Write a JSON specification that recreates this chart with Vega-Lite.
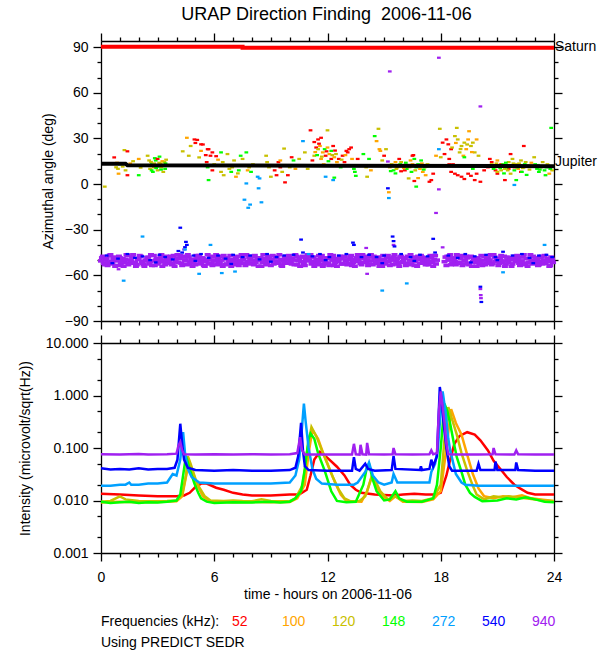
{
  "$schema": "https://vega.github.io/schema/vega-lite/v6.json",
  "background": "white",
  "padding": {"left": 17, "top": 6, "right": 0, "bottom": 0},
  "title": {"text": "URAP Direction Finding\u00a0 2006-11-06", "fontSize": 18, "fontWeight": "normal", "font": "Liberation Sans", "color": "black", "anchor": "middle", "offset": 8, "dx": 19},
  "spacing": 4,
  "resolve": {"legend": {"color": "independent"}},
  "datasets": {
    "upper": [
      {"t":0.2,"a":-1.7,"f":"120"},{"t":0.7,"a":17.5,"f":"52"},{"t":0.8,"a":11,"f":"120"},{"t":0.85,"a":14,"f":"100"},{"t":0.9,"a":10,"f":"120"},{"t":0.93,"a":6.8,"f":"100"},{"t":1.0,"a":13,"f":"148"},{"t":1.15,"a":11.5,"f":"120"},{"t":1.24,"a":22.3,"f":"120"},{"t":1.4,"a":21.5,"f":"52"},{"t":1.4,"a":5.8,"f":"52"},{"t":1.3,"a":9,"f":"120"},{"t":1.55,"a":13.5,"f":"100"},{"t":1.7,"a":15,"f":"120"},{"t":2.0,"a":16.5,"f":"100"},{"t":2.1,"a":10.8,"f":"120"},{"t":2.0,"a":5.8,"f":"148"},
      {"t":2.47,"a":18.6,"f":"120"},{"t":2.5,"a":12.2,"f":"148"},{"t":2.6,"a":10,"f":"120"},{"t":2.65,"a":14.5,"f":"120"},{"t":2.7,"a":13,"f":"148"},{"t":2.75,"a":8,"f":"148"},{"t":2.8,"a":11,"f":"120"},{"t":2.85,"a":17,"f":"148"},{"t":2.9,"a":15.5,"f":"148"},{"t":2.95,"a":12,"f":"120"},{"t":3.0,"a":9,"f":"120"},{"t":3.0,"a":16.5,"f":"52"},{"t":3.05,"a":11.5,"f":"148"},{"t":3.1,"a":18,"f":"148"},{"t":3.15,"a":13.5,"f":"120"},{"t":3.2,"a":11,"f":"120"},{"t":3.25,"a":15,"f":"100"},{"t":3.3,"a":8,"f":"120"},{"t":3.35,"a":12.5,"f":"148"},{"t":3.36,"a":14.4,"f":"120"},{"t":3.4,"a":10,"f":"148"},{"t":3.45,"a":16,"f":"120"},
      {"t":2.55,"a":15.5,"f":"120"},{"t":2.68,"a":9,"f":"148"},{"t":2.82,"a":13.5,"f":"120"},{"t":2.92,"a":10.5,"f":"148"},{"t":3.08,"a":14,"f":"120"},{"t":3.18,"a":9.5,"f":"148"},{"t":3.28,"a":12,"f":"100"},{"t":3.42,"a":13.5,"f":"148"},
      {"t":4.33,"a":21.5,"f":"120"},{"t":4.55,"a":30.4,"f":"100"},{"t":4.65,"a":18.6,"f":"120"},{"t":4.75,"a":25,"f":"120"},{"t":4.95,"a":29.3,"f":"52"},{"t":5.0,"a":27,"f":"52"},{"t":5.1,"a":29,"f":"52"},{"t":5.2,"a":17.5,"f":"120"},{"t":5.3,"a":26.1,"f":"52"},{"t":5.3,"a":21.8,"f":"100"},{"t":5.4,"a":26,"f":"52"},{"t":5.55,"a":19,"f":"52"},{"t":5.6,"a":14.4,"f":"52"},{"t":5.65,"a":22.9,"f":"52"},{"t":5.65,"a":11,"f":"148"},{"t":5.7,"a":22.9,"f":"52"},{"t":5.7,"a":2.6,"f":"148"},{"t":5.8,"a":18.6,"f":"52"},{"t":5.9,"a":20.8,"f":"52"},{"t":5.9,"a":9,"f":"52"},{"t":6.1,"a":18.3,"f":"52"},{"t":6.0,"a":13,"f":"120"},{"t":6.2,"a":16,"f":"100"},
      {"t":6.36,"a":20.8,"f":"148"},{"t":6.45,"a":14.4,"f":"120"},{"t":6.36,"a":8,"f":"120"},{"t":6.5,"a":5.8,"f":"120"},{"t":6.7,"a":19.7,"f":"120"},{"t":6.8,"a":10,"f":"120"},{"t":6.9,"a":8,"f":"148"},{"t":6.95,"a":11,"f":"120"},{"t":7.05,"a":15.5,"f":"120"},{"t":7.15,"a":4.8,"f":"100"},{"t":7.25,"a":7,"f":"120"},{"t":7.3,"a":9,"f":"148"},{"t":7.4,"a":18.6,"f":"148"},{"t":7.5,"a":16.5,"f":"120"},{"t":7.6,"a":12.2,"f":"120"},{"t":7.7,"a":20.8,"f":"148"},{"t":7.77,"a":9,"f":"100"},{"t":7.85,"a":11,"f":"120"},{"t":7.95,"a":8,"f":"148"},{"t":8.05,"a":13,"f":"120"},
      {"t":7.7,"a":0.4,"f":"272"},{"t":7.6,"a":-10.3,"f":"272"},{"t":7.8,"a":-15.6,"f":"272"},{"t":7.9,"a":-13.5,"f":"272"},{"t":8.3,"a":4.8,"f":"272"},{"t":8.4,"a":3.7,"f":"272"},{"t":8.35,"a":-2.8,"f":"272"},{"t":8.5,"a":-12,"f":"272"},
      {"t":8.75,"a":18.6,"f":"120"},{"t":8.8,"a":14.4,"f":"120"},{"t":8.9,"a":11,"f":"120"},{"t":9.0,"a":4.8,"f":"120"},{"t":9.2,"a":9,"f":"52"},{"t":9.3,"a":5.8,"f":"52"},{"t":9.4,"a":14.4,"f":"52"},{"t":9.5,"a":11,"f":"52"},{"t":9.5,"a":15.5,"f":"100"},{"t":9.6,"a":8,"f":"120"},{"t":9.7,"a":23.3,"f":"120"},{"t":9.75,"a":1.1,"f":"52"},{"t":9.9,"a":5.8,"f":"52"},{"t":10.0,"a":11,"f":"120"},{"t":10.1,"a":17.6,"f":"52"},{"t":10.2,"a":15.5,"f":"148"},{"t":10.3,"a":10,"f":"100"},{"t":10.5,"a":16.5,"f":"120"},{"t":10.6,"a":12.2,"f":"120"},{"t":10.7,"a":28.2,"f":"272"},{"t":10.8,"a":20.8,"f":"120"},{"t":10.95,"a":10,"f":"120"},
      {"t":11.1,"a":35.3,"f":"52"},{"t":11.2,"a":15.5,"f":"52"},{"t":11.3,"a":27.6,"f":"52"},{"t":11.3,"a":18.6,"f":"120"},{"t":11.4,"a":24,"f":"52"},{"t":11.5,"a":29.3,"f":"52"},{"t":11.5,"a":22.9,"f":"120"},{"t":11.6,"a":25,"f":"100"},{"t":11.66,"a":30.4,"f":"52"},{"t":11.66,"a":16.5,"f":"100"},{"t":11.75,"a":20.8,"f":"100"},{"t":11.85,"a":22.9,"f":"148"},{"t":11.9,"a":18.6,"f":"52"},{"t":11.9,"a":4.8,"f":"272"},{"t":12.0,"a":35.3,"f":"120"},{"t":12.0,"a":24,"f":"100"},{"t":12.1,"a":19.7,"f":"100"},{"t":12.2,"a":16.5,"f":"52"},{"t":12.2,"a":21.8,"f":"148"},{"t":12.3,"a":25,"f":"52"},{"t":12.3,"a":2.6,"f":"272"},{"t":12.36,"a":17.6,"f":"100"},{"t":12.36,"a":4.2,"f":"148"},{"t":12.45,"a":19.7,"f":"120"},{"t":12.5,"a":14.4,"f":"100"},{"t":12.6,"a":16.5,"f":"52"},{"t":12.7,"a":11,"f":"148"},{"t":12.8,"a":18.6,"f":"52"},{"t":12.9,"a":14.4,"f":"52"},{"t":13.0,"a":21.8,"f":"52"},{"t":13.07,"a":20.8,"f":"52"},{"t":13.15,"a":22.9,"f":"52"},{"t":13.25,"a":24,"f":"52"},{"t":13.3,"a":16.5,"f":"100"},{"t":13.4,"a":10,"f":"148"},{"t":13.45,"a":8,"f":"148"},{"t":13.5,"a":5.4,"f":"148"},{"t":13.6,"a":16.5,"f":"52"},{"t":11.8,"a":13,"f":"100"},{"t":12.15,"a":12,"f":"120"},{"t":11.45,"a":19,"f":"148"},
      {"t":11.35,"a":21,"f":"100"},{"t":11.55,"a":26.5,"f":"52"},{"t":11.7,"a":18,"f":"120"},{"t":11.95,"a":21.5,"f":"52"},{"t":12.05,"a":15,"f":"148"},{"t":12.25,"a":19,"f":"120"},{"t":12.4,"a":22,"f":"52"},{"t":12.55,"a":12.5,"f":"100"},{"t":12.75,"a":16,"f":"120"},{"t":12.95,"a":19,"f":"100"},
      {"t":13.9,"a":19.7,"f":"148"},{"t":14.05,"a":11,"f":"120"},{"t":14.1,"a":4.8,"f":"120"},{"t":14.2,"a":16.5,"f":"148"},{"t":14.5,"a":31.5,"f":"148"},{"t":14.6,"a":28.2,"f":"100"},{"t":14.7,"a":36.3,"f":"120"},{"t":14.75,"a":22.9,"f":"100"},{"t":14.8,"a":21.8,"f":"100"},{"t":14.9,"a":15.5,"f":"120"},{"t":15.0,"a":18.6,"f":"52"},{"t":15.1,"a":22.9,"f":"120"},{"t":15.2,"a":14.8,"f":"940"},{"t":15.2,"a":-2.8,"f":"540"},{"t":15.25,"a":-5.4,"f":"100"},{"t":15.25,"a":-9.2,"f":"272"},{"t":14.3,"a":9,"f":"100"},
      {"t":15.3,"a":11,"f":"120"},{"t":15.4,"a":13,"f":"120"},{"t":15.5,"a":9,"f":"148"},{"t":15.6,"a":7,"f":"148"},{"t":15.6,"a":14.4,"f":"100"},{"t":15.7,"a":11,"f":"100"},{"t":15.8,"a":16.5,"f":"52"},{"t":15.9,"a":14.4,"f":"120"},{"t":15.9,"a":8.4,"f":"52"},{"t":16.0,"a":12.2,"f":"120"},{"t":16.1,"a":9,"f":"52"},{"t":16.2,"a":10,"f":"148"},{"t":16.3,"a":3.7,"f":"120"},{"t":16.4,"a":15.5,"f":"100"},{"t":16.5,"a":13,"f":"100"},{"t":16.5,"a":18.6,"f":"52"},{"t":16.55,"a":19,"f":"52"},{"t":16.6,"a":16.5,"f":"148"},{"t":16.6,"a":2.0,"f":"52"},{"t":16.7,"a":11,"f":"148"},{"t":16.7,"a":-1.7,"f":"148"},{"t":16.8,"a":13,"f":"148"},{"t":16.8,"a":3.9,"f":"100"},{"t":16.9,"a":10,"f":"100"},{"t":16.96,"a":15.5,"f":"148"},{"t":17.05,"a":8,"f":"100"},{"t":17.15,"a":11,"f":"120"},{"t":17.2,"a":5.8,"f":"100"},{"t":17.3,"a":13,"f":"120"},{"t":17.4,"a":1.5,"f":"52"},{"t":17.5,"a":2.6,"f":"52"},{"t":17.6,"a":6.8,"f":"52"},{"t":17.7,"a":12.2,"f":"120"},{"t":16.25,"a":12.5,"f":"100"},{"t":16.45,"a":8,"f":"148"},{"t":15.75,"a":12,"f":"148"},
      {"t":15.35,"a":8.5,"f":"148"},{"t":15.45,"a":12,"f":"100"},{"t":15.65,"a":10,"f":"120"},{"t":15.85,"a":13,"f":"148"},{"t":16.05,"a":10.5,"f":"100"},{"t":16.15,"a":14,"f":"148"},{"t":16.35,"a":11,"f":"120"},{"t":16.65,"a":9,"f":"120"},{"t":16.85,"a":12,"f":"120"},{"t":17.0,"a":13.5,"f":"100"},{"t":17.1,"a":9.5,"f":"148"},{"t":17.25,"a":11.5,"f":"100"},
      {"t":17.75,"a":18.6,"f":"100"},{"t":17.9,"a":22.9,"f":"272"},{"t":17.95,"a":36.3,"f":"120"},{"t":18.0,"a":17.6,"f":"120"},{"t":18.1,"a":27.2,"f":"52"},{"t":18.2,"a":19.7,"f":"52"},{"t":18.3,"a":29.3,"f":"52"},{"t":18.4,"a":26.1,"f":"52"},{"t":18.45,"a":16.5,"f":"52"},{"t":18.45,"a":13,"f":"52"},{"t":18.55,"a":22.9,"f":"52"},{"t":18.55,"a":8,"f":"52"},{"t":18.65,"a":13,"f":"52"},{"t":18.75,"a":31.5,"f":"120"},{"t":18.75,"a":6.8,"f":"52"},{"t":18.85,"a":36.9,"f":"120"},{"t":18.9,"a":29.3,"f":"120"},{"t":18.9,"a":5.8,"f":"52"},{"t":19.0,"a":20.8,"f":"120"},{"t":19.1,"a":25,"f":"120"},{"t":19.1,"a":4.8,"f":"52"},{"t":19.2,"a":18.6,"f":"100"},{"t":19.25,"a":27.2,"f":"120"},{"t":19.25,"a":3.3,"f":"52"},{"t":19.25,"a":17.6,"f":"148"},{"t":19.35,"a":22.9,"f":"100"},{"t":19.45,"a":29.3,"f":"100"},{"t":19.45,"a":6.8,"f":"52"},{"t":19.5,"a":34.7,"f":"100"},{"t":19.6,"a":25,"f":"120"},{"t":19.6,"a":5.4,"f":"52"},{"t":19.7,"a":27.2,"f":"120"},{"t":19.7,"a":10,"f":"148"},{"t":19.8,"a":20.8,"f":"120"},{"t":19.8,"a":2.6,"f":"52"},{"t":19.9,"a":29.3,"f":"100"},{"t":19.9,"a":6.8,"f":"52"},{"t":20.0,"a":18.6,"f":"120"},{"t":20.0,"a":12.2,"f":"52"},{"t":20.1,"a":1.5,"f":"52"},
      {"t":18.6,"a":24,"f":"120"},{"t":18.8,"a":27,"f":"100"},{"t":19.05,"a":23,"f":"120"},{"t":19.4,"a":26,"f":"120"},{"t":19.65,"a":21,"f":"100"},
      {"t":20.3,"a":9,"f":"52"},{"t":20.5,"a":11,"f":"52"},{"t":20.6,"a":16.5,"f":"52"},{"t":20.7,"a":14.4,"f":"52"},{"t":20.9,"a":9,"f":"52"},{"t":21.0,"a":6.8,"f":"52"},{"t":21.2,"a":13,"f":"52"},{"t":21.4,"a":2.6,"f":"52"},{"t":21.6,"a":10,"f":"52"},{"t":21.7,"a":19.7,"f":"52"},{"t":21.9,"a":11,"f":"52"},{"t":22.4,"a":25,"f":"52"},{"t":22.25,"a":8,"f":"52"},
      {"t":20.7,"a":13,"f":"120"},{"t":20.9,"a":11,"f":"120"},{"t":21.0,"a":8,"f":"120"},{"t":21.0,"a":15.5,"f":"100"},{"t":21.1,"a":12.2,"f":"120"},{"t":21.2,"a":9,"f":"120"},{"t":21.3,"a":13,"f":"148"},{"t":21.4,"a":10,"f":"120"},{"t":21.5,"a":11,"f":"148"},{"t":21.6,"a":14.4,"f":"120"},{"t":21.7,"a":6.8,"f":"120"},{"t":21.7,"a":12.2,"f":"148"},{"t":21.8,"a":16.5,"f":"120"},{"t":21.9,"a":9,"f":"148"},{"t":22.0,"a":13,"f":"120"},{"t":22.1,"a":10,"f":"100"},{"t":22.2,"a":12.2,"f":"148"},{"t":22.25,"a":15.5,"f":"120"},{"t":22.3,"a":8,"f":"148"},{"t":22.4,"a":11,"f":"120"},{"t":22.5,"a":14.4,"f":"120"},{"t":22.0,"a":2.6,"f":"148"},{"t":21.9,"a":-0.6,"f":"272"},{"t":22.95,"a":17.6,"f":"120"},{"t":23.0,"a":13,"f":"148"},{"t":23.1,"a":10,"f":"148"},{"t":23.2,"a":8,"f":"148"},{"t":23.3,"a":11,"f":"120"},{"t":23.4,"a":14.4,"f":"120"},{"t":23.5,"a":9,"f":"148"},{"t":23.55,"a":5.8,"f":"148"},{"t":23.7,"a":12.2,"f":"120"},{"t":23.75,"a":6.8,"f":"100"},{"t":23.85,"a":36.9,"f":"148"},{"t":22.6,"a":12,"f":"148"},{"t":22.7,"a":9.5,"f":"120"},{"t":22.8,"a":14,"f":"100"},{"t":23.6,"a":11,"f":"148"},{"t":23.9,"a":9,"f":"120"},{"t":21.35,"a":7,"f":"148"},{"t":20.8,"a":10,"f":"148"},{"t":22.55,"a":6,"f":"148"},
      {"t":20.75,"a":11.5,"f":"148"},{"t":20.95,"a":13.5,"f":"120"},{"t":21.15,"a":10.5,"f":"148"},{"t":21.25,"a":12.5,"f":"120"},{"t":21.45,"a":14,"f":"148"},{"t":21.55,"a":9,"f":"120"},{"t":21.65,"a":11.5,"f":"148"},{"t":21.85,"a":13.5,"f":"120"},{"t":22.05,"a":11,"f":"148"},{"t":22.15,"a":13.5,"f":"120"},{"t":22.35,"a":10.5,"f":"120"},{"t":22.45,"a":13,"f":"148"},{"t":23.05,"a":11.5,"f":"120"},{"t":23.15,"a":12.5,"f":"148"},{"t":23.25,"a":9.5,"f":"148"},{"t":23.45,"a":11.5,"f":"148"},{"t":23.65,"a":13,"f":"120"},{"t":23.8,"a":10,"f":"148"},
      {"t":15.3,"a":74,"f":"940"},{"t":17.9,"a":83,"f":"940"},{"t":20.1,"a":51,"f":"940"},{"t":17.75,"a":-19,"f":"940"},{"t":17.9,"a":-3.5,"f":"940"},
      {"t":14.05,"a":-42,"f":"940"},{"t":14.1,"a":-59,"f":"940"},{"t":18.1,"a":-41.6,"f":"940"},{"t":20.1,"a":-69,"f":"940"},{"t":20.12,"a":-73,"f":"940"},{"t":20.13,"a":-75,"f":"940"},{"t":15.5,"a":-40,"f":"940"},{"t":4.4,"a":-43,"f":"940"},{"t":0.93,"a":-56,"f":"940"},
      {"t":0.3,"a":-47,"f":"540"},{"t":0.9,"a":-49,"f":"540"},{"t":1.4,"a":-46,"f":"540"},{"t":1.8,"a":-48.5,"f":"540"},{"t":2.2,"a":-47.5,"f":"540"},{"t":2.6,"a":-50,"f":"540"},{"t":3.1,"a":-46.5,"f":"540"},{"t":3.4,"a":-48,"f":"540"},{"t":3.8,"a":-49.5,"f":"540"},{"t":4.1,"a":-44,"f":"540"},{"t":4.3,"a":-45,"f":"540"},{"t":4.45,"a":-41.5,"f":"540"},{"t":4.5,"a":-38,"f":"540"},{"t":4.55,"a":-40,"f":"540"},{"t":4.2,"a":-28.7,"f":"540"},{"t":4.9,"a":-47,"f":"540"},{"t":5.3,"a":-46,"f":"540"},{"t":5.7,"a":-48.5,"f":"540"},{"t":6.2,"a":-47,"f":"540"},{"t":6.6,"a":-49,"f":"540"},{"t":7.0,"a":-46.5,"f":"540"},{"t":7.5,"a":-48,"f":"540"},{"t":7.9,"a":-47,"f":"540"},{"t":8.4,"a":-49.5,"f":"540"},{"t":8.8,"a":-46,"f":"540"},{"t":9.3,"a":-48,"f":"540"},{"t":9.7,"a":-47,"f":"540"},{"t":10.2,"a":-46.5,"f":"540"},{"t":10.6,"a":-36.5,"f":"540"},{"t":10.7,"a":-45,"f":"540"},{"t":11.2,"a":-47.5,"f":"540"},{"t":11.6,"a":-46,"f":"540"},{"t":12.1,"a":-48,"f":"540"},{"t":12.6,"a":-47,"f":"540"},{"t":13.0,"a":-46,"f":"540"},{"t":13.35,"a":-38.5,"f":"540"},{"t":13.4,"a":-40,"f":"540"},{"t":13.8,"a":-48,"f":"540"},{"t":14.2,"a":-46.5,"f":"540"},{"t":14.6,"a":-48,"f":"540"},{"t":15.0,"a":-47,"f":"540"},{"t":15.45,"a":-34.5,"f":"540"},{"t":15.5,"a":-37.5,"f":"540"},{"t":15.55,"a":-41,"f":"540"},{"t":15.9,"a":-46,"f":"540"},{"t":16.4,"a":-48,"f":"540"},{"t":16.9,"a":-46.5,"f":"540"},{"t":17.3,"a":-47.5,"f":"540"},{"t":17.6,"a":-36,"f":"540"},{"t":17.7,"a":-45,"f":"540"},{"t":18.4,"a":-47,"f":"540"},{"t":18.9,"a":-48.5,"f":"540"},{"t":19.3,"a":-46,"f":"540"},{"t":19.8,"a":-47.5,"f":"540"},{"t":20.1,"a":-67.5,"f":"540"},{"t":20.15,"a":-77.5,"f":"540"},{"t":20.4,"a":-46.5,"f":"540"},{"t":20.9,"a":-48,"f":"540"},{"t":21.3,"a":-44.5,"f":"540"},{"t":21.8,"a":-47,"f":"540"},{"t":22.3,"a":-46,"f":"540"},{"t":22.7,"a":-48.5,"f":"540"},{"t":23.2,"a":-47,"f":"540"},{"t":23.6,"a":-46.5,"f":"540"},{"t":23.9,"a":-48,"f":"540"},
      {"t":0.6,"a":-52,"f":"540"},{"t":2.9,"a":-51.5,"f":"540"},{"t":5.0,"a":-50.5,"f":"540"},{"t":6.9,"a":-52.5,"f":"540"},{"t":9.0,"a":-51,"f":"540"},{"t":11.9,"a":-50,"f":"540"},{"t":14.9,"a":-52,"f":"540"},{"t":16.6,"a":-50.5,"f":"540"},{"t":19.6,"a":-51.5,"f":"540"},{"t":21.0,"a":-50,"f":"540"},{"t":22.9,"a":-52,"f":"540"},
      {"t":1.2,"a":-63.5,"f":"272"},{"t":2.2,"a":-34.5,"f":"272"},{"t":5.2,"a":-59,"f":"272"},{"t":5.8,"a":-40,"f":"272"},{"t":6.4,"a":-58.5,"f":"272"},{"t":7.1,"a":-57.5,"f":"272"},{"t":14.9,"a":-70,"f":"272"},{"t":16.2,"a":-65.3,"f":"272"},{"t":21.3,"a":-58,"f":"272"},{"t":23.5,"a":-40,"f":"272"},{"t":4.45,"a":-43,"f":"272"},{"t":11.0,"a":-46,"f":"272"}
    ],
    "band": [
      {"t":0.05,"a":-48.5,"f":"940"},{"t":0.15,"a":-52,"f":"940"},{"t":0.25,"a":-50,"f":"940"},{"t":0.35,"a":-53.5,"f":"940"},{"t":0.45,"a":-47,"f":"940"},{"t":0.55,"a":-51,"f":"940"},{"t":0.65,"a":-49,"f":"940"},{"t":0.75,"a":-54,"f":"940"},{"t":0.85,"a":-50.5,"f":"940"},{"t":0.95,"a":-47.5,"f":"940"},
      {"t":1.05,"a":-52.5,"f":"940"},{"t":1.15,"a":-49,"f":"940"},{"t":1.25,"a":-51.5,"f":"940"},{"t":1.35,"a":-46.5,"f":"940"},{"t":1.45,"a":-53,"f":"940"},{"t":1.55,"a":-50,"f":"940"},{"t":1.65,"a":-48,"f":"940"},{"t":1.75,"a":-52,"f":"940"},{"t":1.85,"a":-54,"f":"940"},{"t":1.95,"a":-49.5,"f":"940"},
      {"t":2.05,"a":-47,"f":"940"},{"t":2.15,"a":-51,"f":"940"},{"t":2.25,"a":-53,"f":"940"},{"t":2.35,"a":-50,"f":"940"},{"t":2.45,"a":-48.5,"f":"940"},{"t":2.55,"a":-52.5,"f":"940"},{"t":2.65,"a":-46.5,"f":"940"},{"t":2.75,"a":-50.5,"f":"940"},{"t":2.85,"a":-53.5,"f":"940"},{"t":2.95,"a":-49,"f":"940"},
      {"t":3.05,"a":-51.5,"f":"940"},{"t":3.15,"a":-48,"f":"940"},{"t":3.25,"a":-54,"f":"940"},{"t":3.35,"a":-50,"f":"940"},{"t":3.45,"a":-47.5,"f":"940"},{"t":3.55,"a":-52,"f":"940"},{"t":3.65,"a":-49.5,"f":"940"},{"t":3.75,"a":-53,"f":"940"},{"t":3.85,"a":-47,"f":"940"},{"t":3.95,"a":-51,"f":"940"},
      {"t":4.05,"a":-46.5,"f":"940"},{"t":4.15,"a":-49,"f":"940"},{"t":4.25,"a":-52,"f":"940"},{"t":4.35,"a":-47.5,"f":"940"},{"t":4.45,"a":-50,"f":"940"},{"t":4.55,"a":-53,"f":"940"},{"t":4.65,"a":-48,"f":"940"},{"t":4.75,"a":-51.5,"f":"940"},{"t":4.85,"a":-54,"f":"940"},{"t":4.95,"a":-49.5,"f":"940"},
      {"t":5.05,"a":-47,"f":"940"},{"t":5.15,"a":-52.5,"f":"940"},{"t":5.25,"a":-50,"f":"940"},{"t":5.35,"a":-48.5,"f":"940"},{"t":5.45,"a":-53.5,"f":"940"},{"t":5.55,"a":-51,"f":"940"},{"t":5.65,"a":-46.5,"f":"940"},{"t":5.75,"a":-49.5,"f":"940"},{"t":5.85,"a":-52,"f":"940"},{"t":5.95,"a":-50.5,"f":"940"},
      {"t":6.05,"a":-48,"f":"940"},{"t":6.15,"a":-53,"f":"940"},{"t":6.25,"a":-51,"f":"940"},{"t":6.35,"a":-47.5,"f":"940"},{"t":6.45,"a":-54,"f":"940"},{"t":6.55,"a":-49,"f":"940"},{"t":6.65,"a":-52.5,"f":"940"},{"t":6.75,"a":-50,"f":"940"},{"t":6.85,"a":-47,"f":"940"},{"t":6.95,"a":-51.5,"f":"940"},
      {"t":7.05,"a":-53,"f":"940"},{"t":7.15,"a":-48.5,"f":"940"},{"t":7.25,"a":-50.5,"f":"940"},{"t":7.35,"a":-52,"f":"940"},{"t":7.45,"a":-46.5,"f":"940"},{"t":7.55,"a":-49.5,"f":"940"},{"t":7.65,"a":-53.5,"f":"940"},{"t":7.75,"a":-51,"f":"940"},{"t":7.85,"a":-48,"f":"940"},{"t":7.95,"a":-50,"f":"940"},
      {"t":8.05,"a":-52,"f":"940"},{"t":8.15,"a":-47,"f":"940"},{"t":8.25,"a":-50,"f":"940"},{"t":8.35,"a":-54,"f":"940"},{"t":8.45,"a":-48.5,"f":"940"},{"t":8.55,"a":-51.5,"f":"940"},{"t":8.65,"a":-49,"f":"940"},{"t":8.75,"a":-53,"f":"940"},{"t":8.85,"a":-47.5,"f":"940"},{"t":8.95,"a":-50.5,"f":"940"},
      {"t":9.05,"a":-49.5,"f":"940"},{"t":9.15,"a":-52.5,"f":"940"},{"t":9.25,"a":-48,"f":"940"},{"t":9.35,"a":-51,"f":"940"},{"t":9.45,"a":-46.5,"f":"940"},{"t":9.55,"a":-53.5,"f":"940"},{"t":9.65,"a":-50,"f":"940"},{"t":9.75,"a":-48.5,"f":"940"},{"t":9.85,"a":-52,"f":"940"},{"t":9.95,"a":-47,"f":"940"},
      {"t":10.05,"a":-51,"f":"940"},{"t":10.15,"a":-49,"f":"940"},{"t":10.25,"a":-53,"f":"940"},{"t":10.35,"a":-47.5,"f":"940"},{"t":10.45,"a":-50.5,"f":"940"},{"t":10.55,"a":-54,"f":"940"},{"t":10.65,"a":-48,"f":"940"},{"t":10.75,"a":-52,"f":"940"},{"t":10.85,"a":-49.5,"f":"940"},{"t":10.95,"a":-46.5,"f":"940"},
      {"t":11.05,"a":-50,"f":"940"},{"t":11.15,"a":-52.5,"f":"940"},{"t":11.25,"a":-48,"f":"940"},{"t":11.35,"a":-51.5,"f":"940"},{"t":11.45,"a":-53,"f":"940"},{"t":11.55,"a":-47,"f":"940"},{"t":11.65,"a":-49,"f":"940"},{"t":11.75,"a":-54,"f":"940"},{"t":11.85,"a":-50.5,"f":"940"},{"t":11.95,"a":-48.5,"f":"940"},
      {"t":12.05,"a":-52,"f":"940"},{"t":12.15,"a":-46.5,"f":"940"},{"t":12.25,"a":-50,"f":"940"},{"t":12.35,"a":-53.5,"f":"940"},{"t":12.45,"a":-49,"f":"940"},{"t":12.55,"a":-51,"f":"940"},{"t":12.65,"a":-47.5,"f":"940"},{"t":12.75,"a":-52.5,"f":"940"},{"t":12.85,"a":-48,"f":"940"},{"t":12.95,"a":-50.5,"f":"940"},
      {"t":13.05,"a":-53,"f":"940"},{"t":13.15,"a":-49.5,"f":"940"},{"t":13.25,"a":-47,"f":"940"},{"t":13.35,"a":-51.5,"f":"940"},{"t":13.45,"a":-54,"f":"940"},{"t":13.55,"a":-48.5,"f":"940"},{"t":13.65,"a":-50,"f":"940"},{"t":13.75,"a":-52,"f":"940"},{"t":13.85,"a":-46.5,"f":"940"},{"t":13.95,"a":-49,"f":"940"},
      {"t":14.05,"a":-51,"f":"940"},{"t":14.15,"a":-53.5,"f":"940"},{"t":14.25,"a":-48,"f":"940"},{"t":14.35,"a":-50.5,"f":"940"},{"t":14.45,"a":-47.5,"f":"940"},{"t":14.55,"a":-52,"f":"940"},{"t":14.65,"a":-49.5,"f":"940"},{"t":14.75,"a":-54,"f":"940"},{"t":14.85,"a":-50,"f":"940"},{"t":14.95,"a":-47,"f":"940"},
      {"t":15.05,"a":-52.5,"f":"940"},{"t":15.15,"a":-48.5,"f":"940"},{"t":15.25,"a":-51,"f":"940"},{"t":15.35,"a":-49,"f":"940"},{"t":15.45,"a":-53,"f":"940"},{"t":15.55,"a":-46.5,"f":"940"},{"t":15.65,"a":-50.5,"f":"940"},{"t":15.75,"a":-52,"f":"940"},{"t":15.85,"a":-48,"f":"940"},{"t":15.95,"a":-51.5,"f":"940"},
      {"t":16.05,"a":-49,"f":"940"},{"t":16.15,"a":-53.5,"f":"940"},{"t":16.25,"a":-47.5,"f":"940"},{"t":16.35,"a":-50,"f":"940"},{"t":16.45,"a":-52.5,"f":"940"},{"t":16.55,"a":-48,"f":"940"},{"t":16.65,"a":-51,"f":"940"},{"t":16.75,"a":-54,"f":"940"},{"t":16.85,"a":-49.5,"f":"940"},{"t":16.95,"a":-47,"f":"940"},
      {"t":17.05,"a":-50.5,"f":"940"},{"t":17.15,"a":-52,"f":"940"},{"t":17.25,"a":-48.5,"f":"940"},{"t":17.35,"a":-53,"f":"940"},{"t":17.45,"a":-47,"f":"940"},{"t":17.55,"a":-51.5,"f":"940"},{"t":17.65,"a":-49.5,"f":"940"},{"t":17.75,"a":-52.5,"f":"940"},
      {"t":18.25,"a":-48,"f":"940"},{"t":18.35,"a":-47.5,"f":"940"},{"t":18.45,"a":-50,"f":"940"},{"t":18.55,"a":-53,"f":"940"},{"t":18.65,"a":-48.5,"f":"940"},{"t":18.75,"a":-51,"f":"940"},{"t":18.85,"a":-46.5,"f":"940"},{"t":18.95,"a":-52,"f":"940"},
      {"t":19.05,"a":-49,"f":"940"},{"t":19.15,"a":-53.5,"f":"940"},{"t":19.25,"a":-50.5,"f":"940"},{"t":19.35,"a":-47.5,"f":"940"},{"t":19.45,"a":-52,"f":"940"},{"t":19.55,"a":-48,"f":"940"},{"t":19.65,"a":-54,"f":"940"},{"t":19.75,"a":-50,"f":"940"},{"t":19.85,"a":-51.5,"f":"940"},{"t":19.95,"a":-48.5,"f":"940"},
      {"t":20.05,"a":-52.5,"f":"940"},{"t":20.15,"a":-47,"f":"940"},{"t":20.25,"a":-50,"f":"940"},{"t":20.35,"a":-53,"f":"940"},{"t":20.45,"a":-49.5,"f":"940"},{"t":20.55,"a":-51,"f":"940"},{"t":20.65,"a":-46.5,"f":"940"},{"t":20.75,"a":-52,"f":"940"},{"t":20.85,"a":-48,"f":"940"},{"t":20.95,"a":-50.5,"f":"940"},
      {"t":21.05,"a":-53.5,"f":"940"},{"t":21.15,"a":-49,"f":"940"},{"t":21.25,"a":-51.5,"f":"940"},{"t":21.35,"a":-47.5,"f":"940"},{"t":21.45,"a":-52.5,"f":"940"},{"t":21.55,"a":-50,"f":"940"},{"t":21.65,"a":-48.5,"f":"940"},{"t":21.75,"a":-54,"f":"940"},{"t":21.85,"a":-49.5,"f":"940"},{"t":21.95,"a":-51,"f":"940"},
      {"t":22.05,"a":-47,"f":"940"},{"t":22.15,"a":-52,"f":"940"},{"t":22.25,"a":-50.5,"f":"940"},{"t":22.35,"a":-48,"f":"940"},{"t":22.45,"a":-53,"f":"940"},{"t":22.55,"a":-49,"f":"940"},{"t":22.65,"a":-51.5,"f":"940"},{"t":22.75,"a":-46.5,"f":"940"},{"t":22.85,"a":-52.5,"f":"940"},{"t":22.95,"a":-50,"f":"940"},
      {"t":23.05,"a":-48.5,"f":"940"},{"t":23.15,"a":-53.5,"f":"940"},{"t":23.25,"a":-51,"f":"940"},{"t":23.35,"a":-47.5,"f":"940"},{"t":23.45,"a":-50,"f":"940"},{"t":23.55,"a":-52,"f":"940"},{"t":23.65,"a":-49,"f":"940"},{"t":23.75,"a":-54,"f":"940"},{"t":23.85,"a":-48,"f":"940"},{"t":23.95,"a":-51.5,"f":"940"},
      {"t":0.0,"a":-50.5,"f":"940"},{"t":0.1,"a":-47.5,"f":"940"},{"t":0.2,"a":-53,"f":"940"},{"t":0.3,"a":-49,"f":"940"},{"t":0.4,"a":-51.5,"f":"940"},{"t":0.5,"a":-46.5,"f":"940"},{"t":0.6,"a":-52.5,"f":"940"},{"t":0.7,"a":-48,"f":"940"},{"t":0.8,"a":-50,"f":"940"},{"t":0.9,"a":-53.5,"f":"940"},
      {"t":1.0,"a":-48.5,"f":"940"},{"t":1.1,"a":-51,"f":"940"},{"t":1.2,"a":-54,"f":"940"},{"t":1.3,"a":-49.5,"f":"940"},{"t":1.4,"a":-47,"f":"940"},{"t":1.5,"a":-52,"f":"940"},{"t":1.6,"a":-50.5,"f":"940"},{"t":1.7,"a":-46.5,"f":"940"},{"t":1.8,"a":-51.5,"f":"940"},{"t":1.9,"a":-53,"f":"940"},
      {"t":2.0,"a":-49,"f":"940"},{"t":2.1,"a":-47.5,"f":"940"},{"t":2.2,"a":-52,"f":"940"},{"t":2.3,"a":-54,"f":"940"},{"t":2.4,"a":-50.5,"f":"940"},{"t":2.5,"a":-48,"f":"940"},{"t":2.6,"a":-51,"f":"940"},{"t":2.7,"a":-53.5,"f":"940"},{"t":2.8,"a":-47,"f":"940"},{"t":2.9,"a":-50,"f":"940"},
      {"t":3.0,"a":-52.5,"f":"940"},{"t":3.1,"a":-49.5,"f":"940"},{"t":3.2,"a":-46.5,"f":"940"},{"t":3.3,"a":-51,"f":"940"},{"t":3.4,"a":-53,"f":"940"},{"t":3.5,"a":-48.5,"f":"940"},{"t":3.6,"a":-50.5,"f":"940"},{"t":3.7,"a":-47.5,"f":"940"},{"t":3.8,"a":-52,"f":"940"},{"t":3.9,"a":-54,"f":"940"},
      {"t":4.0,"a":-49,"f":"940"},{"t":4.1,"a":-51.5,"f":"940"},{"t":4.2,"a":-47,"f":"940"},{"t":4.3,"a":-53.5,"f":"940"},{"t":4.4,"a":-48,"f":"940"},{"t":4.5,"a":-50.5,"f":"940"},{"t":4.6,"a":-46.5,"f":"940"},{"t":4.7,"a":-52.5,"f":"940"},{"t":4.8,"a":-49.5,"f":"940"},{"t":4.9,"a":-51,"f":"940"},
      {"t":5.0,"a":-53,"f":"940"},{"t":5.1,"a":-48.5,"f":"940"},{"t":5.2,"a":-47,"f":"940"},{"t":5.3,"a":-51.5,"f":"940"},{"t":5.4,"a":-49,"f":"940"},{"t":5.5,"a":-54,"f":"940"},{"t":5.6,"a":-50,"f":"940"},{"t":5.7,"a":-52.5,"f":"940"},{"t":5.8,"a":-47.5,"f":"940"},{"t":5.9,"a":-53.5,"f":"940"},
      {"t":6.0,"a":-50.5,"f":"940"},{"t":6.1,"a":-46.5,"f":"940"},{"t":6.2,"a":-49,"f":"940"},{"t":6.3,"a":-52,"f":"940"},{"t":6.4,"a":-50,"f":"940"},{"t":6.5,"a":-47,"f":"940"},{"t":6.6,"a":-53,"f":"940"},{"t":6.7,"a":-48.5,"f":"940"},{"t":6.8,"a":-51.5,"f":"940"},{"t":6.9,"a":-54,"f":"940"},
      {"t":7.0,"a":-49.5,"f":"940"},{"t":7.1,"a":-51,"f":"940"},{"t":7.2,"a":-47.5,"f":"940"},{"t":7.3,"a":-53.5,"f":"940"},{"t":7.4,"a":-50.5,"f":"940"},{"t":7.5,"a":-48,"f":"940"},{"t":7.6,"a":-52,"f":"940"},{"t":7.7,"a":-46.5,"f":"940"},{"t":7.8,"a":-52.5,"f":"940"},{"t":7.9,"a":-49,"f":"940"},
      {"t":8.0,"a":-47.5,"f":"940"},{"t":8.1,"a":-53,"f":"940"},{"t":8.2,"a":-51.5,"f":"940"},{"t":8.3,"a":-48.5,"f":"940"},{"t":8.4,"a":-50,"f":"940"},{"t":8.5,"a":-54,"f":"940"},{"t":8.6,"a":-46.5,"f":"940"},{"t":8.7,"a":-51,"f":"940"},{"t":8.8,"a":-52.5,"f":"940"},{"t":8.9,"a":-49,"f":"940"},
      {"t":9.0,"a":-53.5,"f":"940"},{"t":9.1,"a":-47,"f":"940"},{"t":9.2,"a":-50.5,"f":"940"},{"t":9.3,"a":-48,"f":"940"},{"t":9.4,"a":-52,"f":"940"},{"t":9.5,"a":-49.5,"f":"940"},{"t":9.6,"a":-54,"f":"940"},{"t":9.7,"a":-51.5,"f":"940"},{"t":9.8,"a":-47.5,"f":"940"},{"t":9.9,"a":-50,"f":"940"},
      {"t":10.0,"a":-48.5,"f":"940"},{"t":10.1,"a":-52.5,"f":"940"},{"t":10.2,"a":-50,"f":"940"},{"t":10.3,"a":-46.5,"f":"940"},{"t":10.4,"a":-53,"f":"940"},{"t":10.5,"a":-49.5,"f":"940"},{"t":10.6,"a":-51,"f":"940"},{"t":10.7,"a":-47.5,"f":"940"},{"t":10.8,"a":-53.5,"f":"940"},{"t":10.9,"a":-50.5,"f":"940"},
      {"t":11.0,"a":-48,"f":"940"},{"t":11.1,"a":-46.5,"f":"940"},{"t":11.2,"a":-51,"f":"940"},{"t":11.3,"a":-54,"f":"940"},{"t":11.4,"a":-49.5,"f":"940"},{"t":11.5,"a":-52,"f":"940"},{"t":11.6,"a":-50.5,"f":"940"},{"t":11.7,"a":-47,"f":"940"},{"t":11.8,"a":-53,"f":"940"},{"t":11.9,"a":-51.5,"f":"940"},
      {"t":12.0,"a":-49,"f":"940"},{"t":12.1,"a":-53.5,"f":"940"},{"t":12.2,"a":-48.5,"f":"940"},{"t":12.3,"a":-47,"f":"940"},{"t":12.4,"a":-51.5,"f":"940"},{"t":12.5,"a":-54,"f":"940"},{"t":12.6,"a":-50,"f":"940"},{"t":12.7,"a":-49,"f":"940"},{"t":12.8,"a":-52.5,"f":"940"},{"t":12.9,"a":-47.5,"f":"940"},
      {"t":13.0,"a":-50,"f":"940"},{"t":13.1,"a":-52,"f":"940"},{"t":13.2,"a":-48,"f":"940"},{"t":13.3,"a":-53.5,"f":"940"},{"t":13.4,"a":-49.5,"f":"940"},{"t":13.5,"a":-51,"f":"940"},{"t":13.6,"a":-46.5,"f":"940"},{"t":13.7,"a":-48.5,"f":"940"},{"t":13.8,"a":-53,"f":"940"},{"t":13.9,"a":-51.5,"f":"940"},
      {"t":14.0,"a":-47.5,"f":"940"},{"t":14.1,"a":-50,"f":"940"},{"t":14.2,"a":-52.5,"f":"940"},{"t":14.3,"a":-46.5,"f":"940"},{"t":14.4,"a":-53,"f":"940"},{"t":14.5,"a":-49,"f":"940"},{"t":14.6,"a":-51.5,"f":"940"},{"t":14.7,"a":-48,"f":"940"},{"t":14.8,"a":-52,"f":"940"},{"t":14.9,"a":-54,"f":"940"},
      {"t":15.0,"a":-49.5,"f":"940"},{"t":15.1,"a":-51,"f":"940"},{"t":15.2,"a":-47,"f":"940"},{"t":15.3,"a":-53.5,"f":"940"},{"t":15.4,"a":-50,"f":"940"},{"t":15.5,"a":-48,"f":"940"},{"t":15.6,"a":-52.5,"f":"940"},{"t":15.7,"a":-49,"f":"940"},{"t":15.8,"a":-54,"f":"940"},{"t":15.9,"a":-47.5,"f":"940"},
      {"t":16.0,"a":-51,"f":"940"},{"t":16.1,"a":-48.5,"f":"940"},{"t":16.2,"a":-52,"f":"940"},{"t":16.3,"a":-53,"f":"940"},{"t":16.4,"a":-46.5,"f":"940"},{"t":16.5,"a":-50.5,"f":"940"},{"t":16.6,"a":-53.5,"f":"940"},{"t":16.7,"a":-49,"f":"940"},{"t":16.8,"a":-47.5,"f":"940"},{"t":16.9,"a":-52,"f":"940"},
      {"t":17.0,"a":-48,"f":"940"},{"t":17.1,"a":-49.5,"f":"940"},{"t":17.2,"a":-53,"f":"940"},{"t":17.3,"a":-50.5,"f":"940"},{"t":17.4,"a":-51,"f":"940"},{"t":17.5,"a":-48.5,"f":"940"},{"t":17.6,"a":-54,"f":"940"},{"t":17.7,"a":-47,"f":"940"},{"t":17.8,"a":-50,"f":"940"},
      {"t":18.2,"a":-51,"f":"940"},{"t":18.3,"a":-53.5,"f":"940"},{"t":18.4,"a":-49,"f":"940"},{"t":18.5,"a":-46.5,"f":"940"},{"t":18.6,"a":-52,"f":"940"},{"t":18.7,"a":-49.5,"f":"940"},{"t":18.8,"a":-53,"f":"940"},{"t":18.9,"a":-48,"f":"940"},
      {"t":19.0,"a":-51.5,"f":"940"},{"t":19.1,"a":-47,"f":"940"},{"t":19.2,"a":-52.5,"f":"940"},{"t":19.3,"a":-50,"f":"940"},{"t":19.4,"a":-48.5,"f":"940"},{"t":19.5,"a":-53,"f":"940"},{"t":19.6,"a":-47.5,"f":"940"},{"t":19.7,"a":-51,"f":"940"},{"t":19.8,"a":-49,"f":"940"},{"t":19.9,"a":-54,"f":"940"},
      {"t":20.0,"a":-49.5,"f":"940"},{"t":20.1,"a":-51.5,"f":"940"},{"t":20.2,"a":-53.5,"f":"940"},{"t":20.3,"a":-47.5,"f":"940"},{"t":20.4,"a":-52,"f":"940"},{"t":20.5,"a":-48.5,"f":"940"},{"t":20.6,"a":-50,"f":"940"},{"t":20.7,"a":-53,"f":"940"},{"t":20.8,"a":-46.5,"f":"940"},{"t":20.9,"a":-51,"f":"940"},
      {"t":21.0,"a":-49,"f":"940"},{"t":21.1,"a":-52,"f":"940"},{"t":21.2,"a":-47,"f":"940"},{"t":21.3,"a":-50.5,"f":"940"},{"t":21.4,"a":-54,"f":"940"},{"t":21.5,"a":-48,"f":"940"},{"t":21.6,"a":-51.5,"f":"940"},{"t":21.7,"a":-49.5,"f":"940"},{"t":21.8,"a":-52.5,"f":"940"},{"t":21.9,"a":-47.5,"f":"940"},
      {"t":22.0,"a":-50,"f":"940"},{"t":22.1,"a":-48.5,"f":"940"},{"t":22.2,"a":-53.5,"f":"940"},{"t":22.3,"a":-51,"f":"940"},{"t":22.4,"a":-46.5,"f":"940"},{"t":22.5,"a":-52,"f":"940"},{"t":22.6,"a":-54,"f":"940"},{"t":22.7,"a":-49,"f":"940"},{"t":22.8,"a":-50.5,"f":"940"},{"t":22.9,"a":-47.5,"f":"940"},
      {"t":23.0,"a":-51.5,"f":"940"},{"t":23.1,"a":-49,"f":"940"},{"t":23.2,"a":-53,"f":"940"},{"t":23.3,"a":-48.5,"f":"940"},{"t":23.4,"a":-52.5,"f":"940"},{"t":23.5,"a":-47,"f":"940"},{"t":23.6,"a":-50.5,"f":"940"},{"t":23.7,"a":-51,"f":"940"},{"t":23.8,"a":-53.5,"f":"940"},{"t":23.9,"a":-49.5,"f":"940"}
    ],
    "saturn": [
      {"t":0,"a":90.3},{"t":7.5,"a":90.3},{"t":7.5,"a":89.6},{"t":24,"a":89.6}
    ],
    "jupiter": [
      {"t":0,"a":13.3},{"t":1.3,"a":13.3},{"t":1.4,"a":12.3},{"t":12,"a":12.1},{"t":24,"a":11.7}
    ],
    "bodies": [
      {"name":"Saturn","a":89.8},{"name":"Jupiter","a":14.5}
    ],
    "inten": [
      {"t":0,"v":0.0135,"f":"52"},{"t":1,"v":0.013,"f":"52"},{"t":2,"v":0.0125,"f":"52"},{"t":3,"v":0.012,"f":"52"},{"t":4,"v":0.012,"f":"52"},{"t":4.4,"v":0.0125,"f":"52"},{"t":4.7,"v":0.014,"f":"52"},{"t":5.0,"v":0.018,"f":"52"},{"t":5.3,"v":0.021,"f":"52"},{"t":5.6,"v":0.021,"f":"52"},{"t":6.1,"v":0.0175,"f":"52"},{"t":6.5,"v":0.016,"f":"52"},{"t":7,"v":0.014,"f":"52"},{"t":7.5,"v":0.013,"f":"52"},{"t":8,"v":0.0125,"f":"52"},{"t":9,"v":0.0125,"f":"52"},{"t":10,"v":0.013,"f":"52"},{"t":10.5,"v":0.013,"f":"52"},{"t":10.9,"v":0.016,"f":"52"},{"t":11.1,"v":0.03,"f":"52"},{"t":11.3,"v":0.06,"f":"52"},{"t":11.6,"v":0.085,"f":"52"},{"t":12.0,"v":0.065,"f":"52"},{"t":12.5,"v":0.044,"f":"52"},{"t":12.9,"v":0.03,"f":"52"},{"t":13.2,"v":0.02,"f":"52"},{"t":13.5,"v":0.016,"f":"52"},{"t":13.8,"v":0.014,"f":"52"},{"t":14.5,"v":0.013,"f":"52"},{"t":15.5,"v":0.0125,"f":"52"},{"t":16,"v":0.013,"f":"52"},{"t":16.6,"v":0.0135,"f":"52"},{"t":17.2,"v":0.013,"f":"52"},{"t":17.7,"v":0.013,"f":"52"},{"t":18.0,"v":0.014,"f":"52"},{"t":18.3,"v":0.03,"f":"52"},{"t":18.5,"v":0.06,"f":"52"},{"t":18.72,"v":0.12,"f":"52"},{"t":19.0,"v":0.17,"f":"52"},{"t":19.4,"v":0.2,"f":"52"},{"t":19.8,"v":0.18,"f":"52"},{"t":20.1,"v":0.14,"f":"52"},{"t":20.5,"v":0.09,"f":"52"},{"t":20.8,"v":0.057,"f":"52"},{"t":21.2,"v":0.038,"f":"52"},{"t":21.5,"v":0.028,"f":"52"},{"t":21.9,"v":0.02,"f":"52"},{"t":22.2,"v":0.017,"f":"52"},{"t":22.6,"v":0.014,"f":"52"},{"t":23,"v":0.013,"f":"52"},{"t":24,"v":0.013,"f":"52"},
      {"t":0,"v":0.0092,"f":"100"},{"t":0.5,"v":0.0094,"f":"100"},{"t":1,"v":0.0095,"f":"100"},{"t":2,"v":0.0093,"f":"100"},{"t":3,"v":0.0094,"f":"100"},{"t":4,"v":0.0097,"f":"100"},{"t":4.3,"v":0.012,"f":"100"},{"t":4.55,"v":0.035,"f":"100"},{"t":4.7,"v":0.05,"f":"100"},{"t":4.85,"v":0.035,"f":"100"},{"t":5.1,"v":0.02,"f":"100"},{"t":5.4,"v":0.012,"f":"100"},{"t":5.8,"v":0.0095,"f":"100"},{"t":7,"v":0.0093,"f":"100"},{"t":8,"v":0.0094,"f":"100"},{"t":9,"v":0.0093,"f":"100"},{"t":10,"v":0.0094,"f":"100"},{"t":10.4,"v":0.011,"f":"100"},{"t":10.8,"v":0.02,"f":"100"},{"t":11.0,"v":0.08,"f":"100"},{"t":11.2,"v":0.22,"f":"100"},{"t":11.5,"v":0.15,"f":"100"},{"t":11.8,"v":0.075,"f":"100"},{"t":12.1,"v":0.04,"f":"100"},{"t":12.4,"v":0.022,"f":"100"},{"t":12.7,"v":0.013,"f":"100"},{"t":13.0,"v":0.0098,"f":"100"},{"t":13.8,"v":0.0095,"f":"100"},{"t":14.1,"v":0.015,"f":"100"},{"t":14.35,"v":0.03,"f":"100"},{"t":14.6,"v":0.018,"f":"100"},{"t":14.9,"v":0.012,"f":"100"},{"t":15.3,"v":0.0098,"f":"100"},{"t":15.6,"v":0.012,"f":"100"},{"t":16,"v":0.0095,"f":"100"},{"t":17,"v":0.0094,"f":"100"},{"t":17.6,"v":0.0105,"f":"100"},{"t":18.0,"v":0.015,"f":"100"},{"t":18.3,"v":0.1,"f":"100"},{"t":18.55,"v":0.55,"f":"100"},{"t":18.8,"v":0.3,"f":"100"},{"t":19.1,"v":0.18,"f":"100"},{"t":19.4,"v":0.075,"f":"100"},{"t":19.7,"v":0.032,"f":"100"},{"t":20.0,"v":0.017,"f":"100"},{"t":20.3,"v":0.012,"f":"100"},{"t":20.8,"v":0.011,"f":"100"},{"t":21.3,"v":0.012,"f":"100"},{"t":21.8,"v":0.0115,"f":"100"},{"t":22.3,"v":0.0125,"f":"100"},{"t":22.8,"v":0.011,"f":"100"},{"t":23.3,"v":0.0105,"f":"100"},{"t":24,"v":0.0098,"f":"100"},
      {"t":0,"v":0.0095,"f":"120"},{"t":0.5,"v":0.0098,"f":"120"},{"t":1,"v":0.012,"f":"120"},{"t":1.3,"v":0.0105,"f":"120"},{"t":2,"v":0.0098,"f":"120"},{"t":3,"v":0.0097,"f":"120"},{"t":3.5,"v":0.0098,"f":"120"},{"t":4.0,"v":0.01,"f":"120"},{"t":4.3,"v":0.013,"f":"120"},{"t":4.5,"v":0.03,"f":"120"},{"t":4.6,"v":0.07,"f":"120"},{"t":4.75,"v":0.05,"f":"120"},{"t":5.0,"v":0.026,"f":"120"},{"t":5.2,"v":0.018,"f":"120"},{"t":5.5,"v":0.012,"f":"120"},{"t":5.8,"v":0.01,"f":"120"},{"t":6.5,"v":0.0098,"f":"120"},{"t":7,"v":0.01,"f":"120"},{"t":7.5,"v":0.0098,"f":"120"},{"t":8,"v":0.0097,"f":"120"},{"t":8.5,"v":0.0105,"f":"120"},{"t":9,"v":0.0098,"f":"120"},{"t":10,"v":0.0097,"f":"120"},{"t":10.3,"v":0.011,"f":"120"},{"t":10.7,"v":0.02,"f":"120"},{"t":10.9,"v":0.08,"f":"120"},{"t":11.15,"v":0.25,"f":"120"},{"t":11.4,"v":0.17,"f":"120"},{"t":11.7,"v":0.09,"f":"120"},{"t":12.0,"v":0.05,"f":"120"},{"t":12.3,"v":0.027,"f":"120"},{"t":12.6,"v":0.016,"f":"120"},{"t":12.9,"v":0.011,"f":"120"},{"t":13.2,"v":0.0097,"f":"120"},{"t":13.7,"v":0.0098,"f":"120"},{"t":14.0,"v":0.012,"f":"120"},{"t":14.3,"v":0.025,"f":"120"},{"t":14.5,"v":0.025,"f":"120"},{"t":14.8,"v":0.015,"f":"120"},{"t":15.2,"v":0.0105,"f":"120"},{"t":15.6,"v":0.012,"f":"120"},{"t":16,"v":0.0098,"f":"120"},{"t":16.5,"v":0.01,"f":"120"},{"t":17,"v":0.0098,"f":"120"},{"t":17.6,"v":0.011,"f":"120"},{"t":18.0,"v":0.02,"f":"120"},{"t":18.2,"v":0.15,"f":"120"},{"t":18.4,"v":0.6,"f":"120"},{"t":18.6,"v":0.35,"f":"120"},{"t":18.85,"v":0.18,"f":"120"},{"t":19.1,"v":0.08,"f":"120"},{"t":19.4,"v":0.037,"f":"120"},{"t":19.7,"v":0.019,"f":"120"},{"t":19.9,"v":0.013,"f":"120"},{"t":20.3,"v":0.0105,"f":"120"},{"t":20.8,"v":0.012,"f":"120"},{"t":21.2,"v":0.0115,"f":"120"},{"t":21.6,"v":0.012,"f":"120"},{"t":22,"v":0.0115,"f":"120"},{"t":22.5,"v":0.011,"f":"120"},{"t":23,"v":0.0105,"f":"120"},{"t":23.5,"v":0.01,"f":"120"},{"t":24,"v":0.0097,"f":"120"},
      {"t":0,"v":0.0095,"f":"148"},{"t":0.5,"v":0.009,"f":"148"},{"t":1,"v":0.0093,"f":"148"},{"t":1.5,"v":0.0095,"f":"148"},{"t":2,"v":0.009,"f":"148"},{"t":2.5,"v":0.0093,"f":"148"},{"t":3,"v":0.0092,"f":"148"},{"t":3.5,"v":0.0095,"f":"148"},{"t":4.0,"v":0.01,"f":"148"},{"t":4.2,"v":0.013,"f":"148"},{"t":4.35,"v":0.03,"f":"148"},{"t":4.5,"v":0.07,"f":"148"},{"t":4.7,"v":0.04,"f":"148"},{"t":4.95,"v":0.021,"f":"148"},{"t":5.15,"v":0.014,"f":"148"},{"t":5.3,"v":0.011,"f":"148"},{"t":5.6,"v":0.0095,"f":"148"},{"t":6,"v":0.009,"f":"148"},{"t":7,"v":0.0093,"f":"148"},{"t":8,"v":0.0092,"f":"148"},{"t":9,"v":0.0095,"f":"148"},{"t":9.5,"v":0.0092,"f":"148"},{"t":10,"v":0.0095,"f":"148"},{"t":10.3,"v":0.011,"f":"148"},{"t":10.6,"v":0.015,"f":"148"},{"t":10.8,"v":0.04,"f":"148"},{"t":11.0,"v":0.15,"f":"148"},{"t":11.1,"v":0.19,"f":"148"},{"t":11.3,"v":0.15,"f":"148"},{"t":11.5,"v":0.08,"f":"148"},{"t":11.85,"v":0.037,"f":"148"},{"t":12.2,"v":0.015,"f":"148"},{"t":12.5,"v":0.0098,"f":"148"},{"t":13,"v":0.0093,"f":"148"},{"t":13.5,"v":0.0095,"f":"148"},{"t":13.9,"v":0.02,"f":"148"},{"t":14.1,"v":0.045,"f":"148"},{"t":14.2,"v":0.05,"f":"148"},{"t":14.4,"v":0.025,"f":"148"},{"t":14.6,"v":0.015,"f":"148"},{"t":15.0,"v":0.01,"f":"148"},{"t":15.3,"v":0.0105,"f":"148"},{"t":15.6,"v":0.015,"f":"148"},{"t":15.8,"v":0.011,"f":"148"},{"t":16.2,"v":0.0095,"f":"148"},{"t":17,"v":0.0095,"f":"148"},{"t":17.6,"v":0.011,"f":"148"},{"t":17.8,"v":0.02,"f":"148"},{"t":18.0,"v":0.1,"f":"148"},{"t":18.2,"v":0.7,"f":"148"},{"t":18.35,"v":0.5,"f":"148"},{"t":18.5,"v":0.29,"f":"148"},{"t":18.7,"v":0.12,"f":"148"},{"t":18.85,"v":0.067,"f":"148"},{"t":19.1,"v":0.035,"f":"148"},{"t":19.3,"v":0.02,"f":"148"},{"t":19.55,"v":0.014,"f":"148"},{"t":19.8,"v":0.0117,"f":"148"},{"t":20.2,"v":0.0097,"f":"148"},{"t":21,"v":0.01,"f":"148"},{"t":21.5,"v":0.011,"f":"148"},{"t":22,"v":0.0105,"f":"148"},{"t":22.5,"v":0.0115,"f":"148"},{"t":23,"v":0.0105,"f":"148"},{"t":23.5,"v":0.0095,"f":"148"},{"t":24,"v":0.0093,"f":"148"},
      {"t":0,"v":0.019,"f":"272"},{"t":0.5,"v":0.019,"f":"272"},{"t":1,"v":0.02,"f":"272"},{"t":1.3,"v":0.02,"f":"272"},{"t":1.5,"v":0.022,"f":"272"},{"t":1.6,"v":0.02,"f":"272"},{"t":2,"v":0.02,"f":"272"},{"t":2.5,"v":0.021,"f":"272"},{"t":3,"v":0.021,"f":"272"},{"t":3.5,"v":0.022,"f":"272"},{"t":3.8,"v":0.032,"f":"272"},{"t":4.0,"v":0.03,"f":"272"},{"t":4.2,"v":0.06,"f":"272"},{"t":4.35,"v":0.2,"f":"272"},{"t":4.45,"v":0.08,"f":"272"},{"t":4.6,"v":0.04,"f":"272"},{"t":4.8,"v":0.028,"f":"272"},{"t":5.2,"v":0.022,"f":"272"},{"t":6,"v":0.021,"f":"272"},{"t":7,"v":0.021,"f":"272"},{"t":8,"v":0.021,"f":"272"},{"t":9,"v":0.021,"f":"272"},{"t":10,"v":0.022,"f":"272"},{"t":10.3,"v":0.03,"f":"272"},{"t":10.5,"v":0.06,"f":"272"},{"t":10.65,"v":0.25,"f":"272"},{"t":10.75,"v":0.7,"f":"272"},{"t":10.85,"v":0.3,"f":"272"},{"t":11.0,"v":0.1,"f":"272"},{"t":11.2,"v":0.04,"f":"272"},{"t":11.4,"v":0.026,"f":"272"},{"t":11.7,"v":0.021,"f":"272"},{"t":12.5,"v":0.02,"f":"272"},{"t":13.4,"v":0.02,"f":"272"},{"t":13.6,"v":0.022,"f":"272"},{"t":14.0,"v":0.035,"f":"272"},{"t":14.2,"v":0.053,"f":"272"},{"t":14.4,"v":0.03,"f":"272"},{"t":14.7,"v":0.022,"f":"272"},{"t":15,"v":0.02,"f":"272"},{"t":15.4,"v":0.022,"f":"272"},{"t":15.5,"v":0.032,"f":"272"},{"t":15.7,"v":0.022,"f":"272"},{"t":16.8,"v":0.022,"f":"272"},{"t":17.4,"v":0.022,"f":"272"},{"t":17.5,"v":0.035,"f":"272"},{"t":17.7,"v":0.05,"f":"272"},{"t":17.85,"v":0.1,"f":"272"},{"t":18.0,"v":0.5,"f":"272"},{"t":18.1,"v":1.2,"f":"272"},{"t":18.25,"v":0.5,"f":"272"},{"t":18.4,"v":0.15,"f":"272"},{"t":18.5,"v":0.09,"f":"272"},{"t":18.8,"v":0.032,"f":"272"},{"t":19.1,"v":0.022,"f":"272"},{"t":19.3,"v":0.02,"f":"272"},{"t":20,"v":0.019,"f":"272"},{"t":21,"v":0.019,"f":"272"},{"t":22,"v":0.019,"f":"272"},{"t":23,"v":0.019,"f":"272"},{"t":24,"v":0.019,"f":"272"},
      {"t":0,"v":0.041,"f":"540"},{"t":0.5,"v":0.039,"f":"540"},{"t":1,"v":0.04,"f":"540"},{"t":1.5,"v":0.039,"f":"540"},{"t":2,"v":0.041,"f":"540"},{"t":2.5,"v":0.039,"f":"540"},{"t":3,"v":0.04,"f":"540"},{"t":3.5,"v":0.04,"f":"540"},{"t":3.9,"v":0.042,"f":"540"},{"t":4.05,"v":0.06,"f":"540"},{"t":4.2,"v":0.29,"f":"540"},{"t":4.3,"v":0.12,"f":"540"},{"t":4.4,"v":0.06,"f":"540"},{"t":4.6,"v":0.042,"f":"540"},{"t":5,"v":0.038,"f":"540"},{"t":6,"v":0.037,"f":"540"},{"t":7,"v":0.038,"f":"540"},{"t":8,"v":0.037,"f":"540"},{"t":9,"v":0.037,"f":"540"},{"t":10,"v":0.038,"f":"540"},{"t":10.3,"v":0.042,"f":"540"},{"t":10.45,"v":0.07,"f":"540"},{"t":10.6,"v":0.3,"f":"540"},{"t":10.7,"v":0.09,"f":"540"},{"t":10.8,"v":0.045,"f":"540"},{"t":11,"v":0.038,"f":"540"},{"t":12,"v":0.037,"f":"540"},{"t":13.3,"v":0.037,"f":"540"},{"t":13.4,"v":0.067,"f":"540"},{"t":13.5,"v":0.04,"f":"540"},{"t":13.7,"v":0.037,"f":"540"},{"t":14.0,"v":0.05,"f":"540"},{"t":14.15,"v":0.04,"f":"540"},{"t":14.5,"v":0.037,"f":"540"},{"t":15.4,"v":0.038,"f":"540"},{"t":15.5,"v":0.071,"f":"540"},{"t":15.6,"v":0.04,"f":"540"},{"t":16.9,"v":0.038,"f":"540"},{"t":16.95,"v":0.045,"f":"540"},{"t":17.0,"v":0.038,"f":"540"},{"t":17.4,"v":0.04,"f":"540"},{"t":17.5,"v":0.06,"f":"540"},{"t":17.6,"v":0.045,"f":"540"},{"t":17.8,"v":0.07,"f":"540"},{"t":17.95,"v":1.45,"f":"540"},{"t":18.05,"v":0.8,"f":"540"},{"t":18.15,"v":0.3,"f":"540"},{"t":18.3,"v":0.1,"f":"540"},{"t":18.45,"v":0.045,"f":"540"},{"t":18.6,"v":0.037,"f":"540"},{"t":19.9,"v":0.037,"f":"540"},{"t":20.0,"v":0.05,"f":"540"},{"t":20.1,"v":0.038,"f":"540"},{"t":20.85,"v":0.038,"f":"540"},{"t":20.9,"v":0.055,"f":"540"},{"t":21.0,"v":0.038,"f":"540"},{"t":21.95,"v":0.038,"f":"540"},{"t":22.0,"v":0.053,"f":"540"},{"t":22.1,"v":0.038,"f":"540"},{"t":23,"v":0.037,"f":"540"},{"t":24,"v":0.037,"f":"540"},
      {"t":0,"v":0.076,"f":"940"},{"t":1,"v":0.075,"f":"940"},{"t":2,"v":0.077,"f":"940"},{"t":2.5,"v":0.075,"f":"940"},{"t":3.5,"v":0.076,"f":"940"},{"t":4.0,"v":0.078,"f":"940"},{"t":4.1,"v":0.11,"f":"940"},{"t":4.2,"v":0.13,"f":"940"},{"t":4.3,"v":0.09,"f":"940"},{"t":4.4,"v":0.076,"f":"940"},{"t":5,"v":0.075,"f":"940"},{"t":6,"v":0.076,"f":"940"},{"t":7,"v":0.075,"f":"940"},{"t":8,"v":0.076,"f":"940"},{"t":9,"v":0.075,"f":"940"},{"t":10,"v":0.076,"f":"940"},{"t":10.4,"v":0.08,"f":"940"},{"t":10.55,"v":0.16,"f":"940"},{"t":10.65,"v":0.09,"f":"940"},{"t":10.8,"v":0.075,"f":"940"},{"t":12,"v":0.075,"f":"940"},{"t":13.3,"v":0.075,"f":"940"},{"t":13.4,"v":0.12,"f":"940"},{"t":13.5,"v":0.076,"f":"940"},{"t":13.7,"v":0.075,"f":"940"},{"t":13.75,"v":0.115,"f":"940"},{"t":13.85,"v":0.076,"f":"940"},{"t":14.05,"v":0.075,"f":"940"},{"t":14.1,"v":0.125,"f":"940"},{"t":14.2,"v":0.076,"f":"940"},{"t":15,"v":0.075,"f":"940"},{"t":15.45,"v":0.076,"f":"940"},{"t":15.5,"v":0.1,"f":"940"},{"t":15.6,"v":0.076,"f":"940"},{"t":16.5,"v":0.075,"f":"940"},{"t":17.4,"v":0.076,"f":"940"},{"t":17.5,"v":0.09,"f":"940"},{"t":17.6,"v":0.076,"f":"940"},{"t":17.8,"v":0.08,"f":"940"},{"t":17.9,"v":0.5,"f":"940"},{"t":18.0,"v":1.2,"f":"940"},{"t":18.1,"v":0.6,"f":"940"},{"t":18.2,"v":0.3,"f":"940"},{"t":18.3,"v":0.12,"f":"940"},{"t":18.4,"v":0.076,"f":"940"},{"t":19,"v":0.075,"f":"940"},{"t":20,"v":0.075,"f":"940"},{"t":20.75,"v":0.076,"f":"940"},{"t":20.8,"v":0.1,"f":"940"},{"t":20.9,"v":0.076,"f":"940"},{"t":21.9,"v":0.075,"f":"940"},{"t":22.0,"v":0.09,"f":"940"},{"t":22.1,"v":0.076,"f":"940"},{"t":23,"v":0.075,"f":"940"},{"t":24,"v":0.075,"f":"940"}
    ]
  },
  "vconcat": [
    {
      "width": 453,
      "height": 280,
      "resolve": {"axis": {"x": "independent", "y": "independent"}},
      "layer": [
        {
          "data": {"name": "band"},
          "mark": {"type": "point", "shape": "M-1,-0.6H1V0.6H-1Z", "size": 36, "filled": true, "opacity": 1},
          "encoding": {
            "x": {"field": "t", "type": "quantitative", "scale": {"domain": [0, 24], "nice": false, "zero": false},
                  "axis": {"orient": "bottom", "values": [1, 2, 3, 4, 5, 7, 8, 9, 10, 11, 13, 14, 15, 16, 17, 19, 20, 21, 22, 23], "labels": false, "title": null, "tickSize": 4, "domain": false}},
            "y": {"field": "a", "type": "quantitative", "scale": {"domain": [-90, 94], "nice": false, "zero": false},
                  "axis": {"orient": "left", "values": [-80, -70, -50, -40, -20, -10, 10, 20, 40, 50, 70, 80], "labels": false, "title": null, "tickSize": 4, "domain": false}},
            "color": {"field": "f", "type": "nominal", "legend": null,
                      "scale": {"domain": ["52", "100", "120", "148", "272", "540", "940"], "range": ["#ff0000", "#ffa500", "#c8c000", "#00ff00", "#00a0ff", "#0000ff", "#a020f0"]}}
          }
        },
        {
          "data": {"name": "upper"},
          "mark": {"type": "point", "shape": "M-1,-0.6H1V0.6H-1Z", "size": 14, "filled": true, "opacity": 1},
          "encoding": {
            "x": {"field": "t", "type": "quantitative", "scale": {"domain": [0, 24], "nice": false, "zero": false},
                  "axis": {"orient": "bottom", "values": [0, 6, 12, 18, 24], "labels": false, "title": null, "tickSize": 8}},
            "y": {"field": "a", "type": "quantitative", "scale": {"domain": [-90, 94], "nice": false, "zero": false},
                  "axis": {"orient": "left", "values": [-90, -60, -30, 0, 30, 60, 90], "tickSize": 8, "labelPadding": 5, "title": "Azimuthal angle (deg)", "titleX": -53, "titleBaseline": "middle", "titleAngle": -90}},
            "color": {"field": "f", "type": "nominal", "legend": null,
                      "scale": {"domain": ["52", "100", "120", "148", "272", "540", "940"], "range": ["#ff0000", "#ffa500", "#c8c000", "#00ff00", "#00a0ff", "#0000ff", "#a020f0"]}}
          }
        },
        {
          "data": {"name": "saturn"},
          "mark": {"type": "line", "color": "#ff0000", "strokeWidth": 4, "strokeCap": "butt"},
          "encoding": {
            "x": {"field": "t", "type": "quantitative", "scale": {"domain": [0, 24], "nice": false, "zero": false},
                  "axis": {"orient": "top", "values": [0, 6, 12, 18, 24], "labels": false, "title": null, "tickSize": 8}},
            "y": {"field": "a", "type": "quantitative", "scale": {"domain": [-90, 94], "nice": false, "zero": false},
                  "axis": {"orient": "right", "values": [-90, -60, -30, 0, 30, 60, 90], "labels": false, "title": null, "tickSize": 8}}
          }
        },
        {
          "data": {"name": "jupiter"},
          "mark": {"type": "line", "color": "#000000", "strokeWidth": 4, "strokeCap": "butt"},
          "encoding": {
            "x": {"field": "t", "type": "quantitative", "scale": {"domain": [0, 24], "nice": false, "zero": false},
                  "axis": {"orient": "top", "values": [1, 2, 3, 4, 5, 7, 8, 9, 10, 11, 13, 14, 15, 16, 17, 19, 20, 21, 22, 23], "labels": false, "title": null, "tickSize": 4, "domain": false}},
            "y": {"field": "a", "type": "quantitative", "scale": {"domain": [-90, 94], "nice": false, "zero": false},
                  "axis": {"orient": "right", "values": [-80, -70, -50, -40, -20, -10, 10, 20, 40, 50, 70, 80], "labels": false, "title": null, "tickSize": 4, "domain": false}}
          }
        },
        {
          "data": {"name": "bodies"},
          "mark": {"type": "text", "align": "left", "baseline": "middle", "dx": 1, "fontSize": 14, "font": "Liberation Sans", "color": "black"},
          "encoding": {
            "x": {"datum": 24, "type": "quantitative", "scale": {"domain": [0, 24], "nice": false, "zero": false}, "axis": null},
            "y": {"field": "a", "type": "quantitative", "scale": {"domain": [-90, 94], "nice": false, "zero": false}, "axis": null},
            "text": {"field": "name"}
          }
        }
      ]
    },
    {
      "width": 453,
      "height": 210,
      "title": {"text": "Using PREDICT SEDR", "orient": "bottom", "anchor": "start", "offset": 7, "dx": 83, "fontSize": 14, "fontWeight": "normal", "font": "Liberation Sans", "color": "black"},
      "resolve": {"axis": {"x": "independent", "y": "independent"}},
      "layer": [
        {
          "data": {"name": "inten"},
          "mark": {"type": "line", "strokeWidth": 2.5},
          "encoding": {
            "x": {"field": "t", "type": "quantitative", "scale": {"domain": [0, 24], "nice": false, "zero": false},
                  "axis": {"orient": "bottom", "values": [0, 6, 12, 18, 24], "tickSize": 8, "labelPadding": 9, "title": "time - hours on 2006-11-06", "titlePadding": 3}},
            "y": {"field": "v", "type": "quantitative", "scale": {"type": "log", "domain": [0.001, 10], "nice": false},
                  "axis": {"orient": "left", "values": [0.001, 0.01, 0.1, 1, 10], "format": ".3f", "tickSize": 8, "labelPadding": 5, "title": "Intensity (microvolt/sqrt(Hz))", "titleX": -76, "titleBaseline": "middle", "titleAngle": -90}},
            "color": {"field": "f", "type": "nominal",
                      "scale": {"domain": ["52", "100", "120", "148", "272", "540", "940"], "range": ["#ff0000", "#ffa500", "#c8c000", "#00ff00", "#00a0ff", "#0000ff", "#a020f0"]},
                      "legend": {"orient": "none", "legendX": 0, "legendY": 272, "direction": "horizontal", "columns": 7, "gridAlign": "all", "columnPadding": 12,
                                 "title": "Frequencies (kHz):", "titleOrient": "left", "titlePadding": -2, "titleFontSize": 14, "titleFontWeight": "normal", "titleFont": "Liberation Sans", "titleColor": "black",
                                 "labelFontSize": 14, "labelFont": "Liberation Sans", "labelOffset": 0, "symbolType": "circle", "symbolSize": 0, "symbolStrokeWidth": 0, "symbolOpacity": 0, "padding": 0,
                                 "encode": {"labels": {"update": {"fill": {"scale": "color", "field": "value"}}}}}}
          }
        },
        {
          "data": {"name": "inten"},
          "mark": {"type": "point", "opacity": 0},
          "encoding": {
            "x": {"field": "t", "type": "quantitative", "scale": {"domain": [0, 24], "nice": false, "zero": false},
                  "axis": {"orient": "bottom", "values": [1, 2, 3, 4, 5, 7, 8, 9, 10, 11, 13, 14, 15, 16, 17, 19, 20, 21, 22, 23], "labels": false, "title": null, "tickSize": 4, "domain": false}},
            "y": {"field": "v", "type": "quantitative", "scale": {"type": "log", "domain": [0.001, 10], "nice": false},
                  "axis": {"orient": "left", "values": [0.002, 0.005, 0.02, 0.05, 0.2, 0.5, 2, 5], "labels": false, "title": null, "tickSize": 4, "domain": false}}
          }
        },
        {
          "data": {"name": "inten"},
          "mark": {"type": "point", "opacity": 0},
          "encoding": {
            "x": {"field": "t", "type": "quantitative", "scale": {"domain": [0, 24], "nice": false, "zero": false},
                  "axis": {"orient": "top", "values": [0, 6, 12, 18, 24], "labels": false, "title": null, "tickSize": 8}},
            "y": {"field": "v", "type": "quantitative", "scale": {"type": "log", "domain": [0.001, 10], "nice": false},
                  "axis": {"orient": "right", "values": [0.001, 0.01, 0.1, 1, 10], "labels": false, "title": null, "tickSize": 8}}
          }
        },
        {
          "data": {"name": "inten"},
          "mark": {"type": "point", "opacity": 0},
          "encoding": {
            "x": {"field": "t", "type": "quantitative", "scale": {"domain": [0, 24], "nice": false, "zero": false},
                  "axis": {"orient": "top", "values": [1, 2, 3, 4, 5, 7, 8, 9, 10, 11, 13, 14, 15, 16, 17, 19, 20, 21, 22, 23], "labels": false, "title": null, "tickSize": 4, "domain": false}},
            "y": {"field": "v", "type": "quantitative", "scale": {"type": "log", "domain": [0.001, 10], "nice": false},
                  "axis": {"orient": "right", "values": [0.002, 0.005, 0.02, 0.05, 0.2, 0.5, 2, 5], "labels": false, "title": null, "tickSize": 4, "domain": false}}
          }
        }
      ]
    }
  ],
  "config": {
    "font": "Liberation Sans",
    "view": {"stroke": null},
    "axis": {
      "labelFont": "Liberation Sans", "labelFontSize": 14, "labelColor": "black",
      "titleFont": "Liberation Sans", "titleFontSize": 14, "titleFontWeight": "normal", "titleColor": "black",
      "domainColor": "black", "tickColor": "black", "domainWidth": 1.3, "tickWidth": 1.3,
      "grid": false, "labelFlush": false, "labelOverlap": false
    }
  }
}
